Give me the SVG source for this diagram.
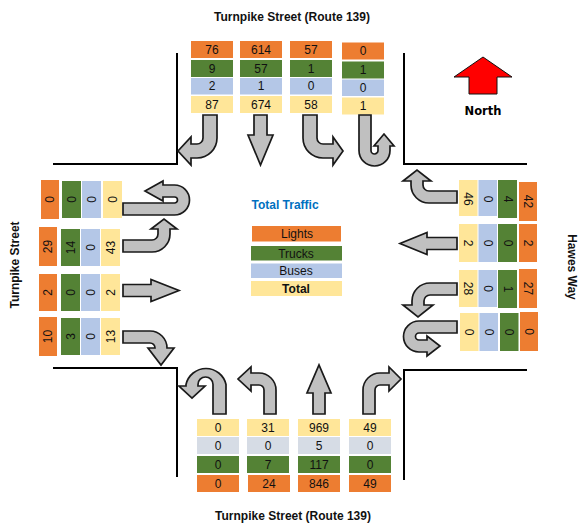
<svg xmlns="http://www.w3.org/2000/svg" width="580" height="523" viewBox="0 0 580 523">
<style>
.o{fill:#ed7d31}.g{fill:#548235}.b{fill:#b4c7e7}.y{fill:#ffe699}.s{fill:#d6dce5}
.n{font-family:"Liberation Sans",Arial,sans-serif;font-size:12px;fill:#111;text-anchor:middle;dominant-baseline:central}
.lbl{font-family:"Liberation Sans",Arial,sans-serif;font-size:12px;font-weight:bold;fill:#111;text-anchor:middle;dominant-baseline:central}
.arr{fill:#c0c0c0;stroke:#1a1a1a;stroke-width:1.7;stroke-linejoin:miter}
.curb{fill:none;stroke:#000;stroke-width:2}
</style>
<rect width="580" height="523" fill="#fff"/>

<g id="curbs">
<path class="curb" d="M177,53 V164 H53"/>
<path class="curb" d="M404,53 V164 H527"/>
<path class="curb" d="M53,368 H177 V477"/>
<path class="curb" d="M527,370 H404 V480"/>
</g>

<g id="labels">
<text class="lbl" x="292" y="17">Turnpike Street (Route 139)</text>
<text class="lbl" x="293" y="516">Turnpike Street (Route 139)</text>
<text class="lbl" transform="rotate(-90 15 265)" x="15" y="265">Turnpike Street</text>
<text class="lbl" transform="rotate(90 572 267)" x="572" y="267">Hawes Way</text>
</g>

<g id="north">
<polygon points="483,57 512,77 497,77 497,94 469,94 469,77 454,77" fill="#ff0000" stroke="#111" stroke-width="1"/>
<text x="483" y="111" style="font-family:'DejaVu Sans',sans-serif;font-size:11.5px;font-weight:bold;text-anchor:middle;dominant-baseline:central;fill:#000">North</text>
</g>

<g id="legend">
<text x="285" y="205" style="font-family:'Liberation Sans',Arial,sans-serif;font-size:12px;font-weight:bold;fill:#0070c0;text-anchor:middle;dominant-baseline:central">Total Traffic</text>
<rect class="o" x="252" y="226" width="89" height="15.5"/>
<text class="n" x="297" y="234">Lights</text>
<rect class="g" x="251" y="246" width="91" height="14.5"/>
<text class="n" x="296" y="253.5">Trucks</text>
<rect class="b" x="251" y="263.5" width="91" height="14.5"/>
<text class="n" x="296" y="271">Buses</text>
<rect class="y" x="251" y="281" width="91" height="15"/>
<text class="lbl" x="296" y="288.5">Total</text>
</g>

<g id="north-approach">
<rect class="o" x="191" y="41" width="42" height="17"/><rect class="g" x="191" y="60" width="42" height="17"/><rect class="b" x="191" y="78" width="42" height="16.5"/><rect class="y" x="191" y="96" width="42" height="17"/>
<text class="n" x="212" y="49.5">76</text><text class="n" x="212" y="68.5">9</text><text class="n" x="212" y="86.3">2</text><text class="n" x="212" y="104.5">87</text>
<rect class="o" x="240" y="41" width="42" height="17"/><rect class="g" x="240" y="60" width="42" height="17"/><rect class="b" x="240" y="78" width="42" height="16.5"/><rect class="y" x="240" y="96" width="42" height="17"/>
<text class="n" x="261" y="49.5">614</text><text class="n" x="261" y="68.5">57</text><text class="n" x="261" y="86.3">1</text><text class="n" x="261" y="104.5">674</text>
<rect class="o" x="290" y="41" width="42" height="17"/><rect class="g" x="290" y="60" width="42" height="17"/><rect class="b" x="290" y="78" width="42" height="16.5"/><rect class="y" x="290" y="96" width="42" height="17"/>
<text class="n" x="311" y="49.5">57</text><text class="n" x="311" y="68.5">1</text><text class="n" x="311" y="86.3">0</text><text class="n" x="311" y="104.5">58</text>
<rect class="o" x="342" y="42.5" width="42" height="17"/><rect class="g" x="342" y="61.5" width="42" height="17"/><rect class="b" x="342" y="79.5" width="42" height="16.5"/><rect class="y" x="342" y="97.5" width="42" height="17"/>
<text class="n" x="363" y="51">0</text><text class="n" x="363" y="70">1</text><text class="n" x="363" y="87.8">0</text><text class="n" x="363" y="106">1</text>
</g>

<g id="west-approach">
<rect class="o" x="41" y="180" width="18" height="39"/><rect class="g" x="62" y="181" width="19" height="37"/><rect class="b" x="82" y="181" width="19" height="37"/><rect class="y" x="103" y="181" width="19" height="37"/>
<text class="n" transform="rotate(-90 50 199.5)" x="50" y="199.5">0</text><text class="n" transform="rotate(-90 71.5 199.5)" x="71.5" y="199.5">0</text><text class="n" transform="rotate(-90 91.5 199.5)" x="91.5" y="199.5">0</text><text class="n" transform="rotate(-90 112.5 199.5)" x="112.5" y="199.5">0</text>
<rect class="o" x="39" y="227" width="18" height="39"/><rect class="g" x="61" y="229" width="19" height="37"/><rect class="b" x="81" y="229" width="19" height="37"/><rect class="y" x="101" y="229" width="19" height="37"/>
<text class="n" transform="rotate(-90 48 246.5)" x="48" y="246.5">29</text><text class="n" transform="rotate(-90 70.5 247.5)" x="70.5" y="247.5">14</text><text class="n" transform="rotate(-90 90.5 247.5)" x="90.5" y="247.5">0</text><text class="n" transform="rotate(-90 110.5 247.5)" x="110.5" y="247.5">43</text>
<rect class="o" x="39" y="274" width="18" height="37"/><rect class="g" x="61" y="274" width="19" height="37"/><rect class="b" x="81" y="274" width="19" height="37"/><rect class="y" x="101" y="274" width="19" height="37"/>
<text class="n" transform="rotate(-90 48 292.5)" x="48" y="292.5">2</text><text class="n" transform="rotate(-90 70.5 292.5)" x="70.5" y="292.5">0</text><text class="n" transform="rotate(-90 90.5 292.5)" x="90.5" y="292.5">0</text><text class="n" transform="rotate(-90 110.5 292.5)" x="110.5" y="292.5">2</text>
<rect class="o" x="39" y="317" width="18" height="39"/><rect class="g" x="61" y="318" width="19" height="37"/><rect class="b" x="81" y="318" width="19" height="37"/><rect class="y" x="101" y="318" width="19" height="37"/>
<text class="n" transform="rotate(-90 48 336.5)" x="48" y="336.5">10</text><text class="n" transform="rotate(-90 70.5 336.5)" x="70.5" y="336.5">3</text><text class="n" transform="rotate(-90 90.5 336.5)" x="90.5" y="336.5">0</text><text class="n" transform="rotate(-90 110.5 336.5)" x="110.5" y="336.5">13</text>
</g>

<g id="east-approach">
<rect class="y" x="459" y="180" width="18.5" height="36"/><rect class="b" x="478.5" y="180" width="18.5" height="36"/><rect class="g" x="498" y="180" width="19" height="38"/><rect class="o" x="519" y="182" width="18" height="39"/>
<text class="n" transform="rotate(90 468 199)" x="468" y="199">46</text><text class="n" transform="rotate(90 487.7 199)" x="487.7" y="199">0</text><text class="n" transform="rotate(90 507.5 199)" x="507.5" y="199">4</text><text class="n" transform="rotate(90 528 201.5)" x="528" y="201.5">42</text>
<rect class="y" x="459" y="224" width="18.5" height="38"/><rect class="b" x="478.5" y="224" width="18.5" height="38"/><rect class="g" x="498" y="224" width="19" height="38"/><rect class="o" x="519" y="224" width="18" height="38"/>
<text class="n" transform="rotate(90 468 243)" x="468" y="243">2</text><text class="n" transform="rotate(90 487.7 243)" x="487.7" y="243">0</text><text class="n" transform="rotate(90 507.5 243)" x="507.5" y="243">0</text><text class="n" transform="rotate(90 528 243)" x="528" y="243">2</text>
<rect class="y" x="459" y="270" width="18.5" height="37"/><rect class="b" x="478.5" y="270" width="18.5" height="37"/><rect class="g" x="498" y="270" width="19" height="38"/><rect class="o" x="519" y="269" width="18" height="39"/>
<text class="n" transform="rotate(90 468 288.5)" x="468" y="288.5">28</text><text class="n" transform="rotate(90 487.7 288.5)" x="487.7" y="288.5">0</text><text class="n" transform="rotate(90 507.5 289)" x="507.5" y="289">1</text><text class="n" transform="rotate(90 528 288.5)" x="528" y="288.5">27</text>
<rect class="y" x="460" y="313" width="18.5" height="38"/><rect class="b" x="479.5" y="313" width="18.5" height="38"/><rect class="g" x="500" y="313" width="18.5" height="38"/><rect class="o" x="520" y="312" width="18" height="39"/>
<text class="n" transform="rotate(90 469 332)" x="469" y="332">0</text><text class="n" transform="rotate(90 488.7 332)" x="488.7" y="332">0</text><text class="n" transform="rotate(90 509 332)" x="509" y="332">0</text><text class="n" transform="rotate(90 529 331.5)" x="529" y="331.5">0</text>
</g>

<g id="south-approach">
<rect class="y" x="197" y="419" width="42" height="17"/><rect class="s" x="197" y="437" width="42" height="17"/><rect class="g" x="197" y="456" width="42" height="17"/><rect class="o" x="197" y="475" width="42" height="17"/>
<text class="n" x="218" y="427.5">0</text><text class="n" x="218" y="445.5">0</text><text class="n" x="218" y="464.5">0</text><text class="n" x="218" y="483.5">0</text>
<rect class="y" x="247" y="419" width="42" height="17"/><rect class="s" x="247" y="437" width="42" height="17"/><rect class="g" x="247" y="456" width="42" height="17"/><rect class="o" x="248" y="475" width="42" height="17"/>
<text class="n" x="268" y="427.5">31</text><text class="n" x="268" y="445.5">0</text><text class="n" x="268" y="464.5">7</text><text class="n" x="269" y="483.5">24</text>
<rect class="y" x="298" y="419" width="42" height="17"/><rect class="s" x="298" y="437" width="42" height="17"/><rect class="g" x="298" y="456" width="42" height="17"/><rect class="o" x="298" y="475" width="42" height="17"/>
<text class="n" x="319" y="427.5">969</text><text class="n" x="319" y="445.5">5</text><text class="n" x="319" y="464.5">117</text><text class="n" x="319" y="483.5">846</text>
<rect class="y" x="349" y="419" width="42" height="17"/><rect class="s" x="349" y="437" width="42" height="17"/><rect class="g" x="349" y="456" width="42" height="17"/><rect class="o" x="349" y="475" width="42" height="17"/>
<text class="n" x="370" y="427.5">49</text><text class="n" x="370" y="445.5">0</text><text class="n" x="370" y="464.5">0</text><text class="n" x="370" y="483.5">49</text>
</g>

<g id="connectors">
<!-- southbound (top) -->
<path class="arr" d="M203,115 H217 V138 A20,20 0 0 1 197,158 H191 V165 L178,151 L191,137 V144 H197 A6,6 0 0 0 203,138 Z"/>
<path class="arr" d="M254,115 H267 V135 H273 L260.5,165 L248,135 H254 Z"/>
<path class="arr" d="M303,115 H317 V138 A6,6 0 0 0 323,144 H333 V137 L343,151 L333,165 V158 H323 A20,20 0 0 1 303,138 Z"/>
<path class="arr" d="M359,115 H371 V150.5 A3.5,3.5 0 0 0 378,150.5 V146 H374 L384,134 L394,146 H390 V150.5 A15.5,15.5 0 0 1 359,150.5 Z"/>
<!-- eastbound (left) -->
<path class="arr" d="M123,203 H174.5 A3,3 0 0 0 174.5,197 H163 V201 L145,191 L163,181 V185 H174.5 A15,15 0 0 1 174.5,215 H123 Z"/>
<path class="arr" d="M123,240 H152 A6,6 0 0 0 158,234 V229 H151 L164,219 L177,229 H170 V234 A18,18 0 0 1 152,252 H123 Z"/>
<path class="arr" d="M123,284.5 H151 V279.5 L179,290.5 L151,301.5 V296.5 H123 Z"/>
<path class="arr" d="M123,331 H150 A17,17 0 0 1 167,348 H174 L161,365 L148,348 H155 A5,5 0 0 0 150,343 H123 Z"/>
<!-- westbound (right) -->
<path class="arr" d="M457,191 H429 A6,6 0 0 1 423,185 V181 H431 L417,170 L403,181 H411 V185 A18,18 0 0 0 429,203 H457 Z"/>
<path class="arr" d="M457,237.5 H427 V232.5 L400,243.5 L427,254.5 V249.5 H457 Z"/>
<path class="arr" d="M457,283 H430 A18,18 0 0 0 412,301 V305 H403 L418,317 L433,305 H424 V301 A6,6 0 0 1 430,295 H457 Z"/>
<path class="arr" d="M457,321 H419 A15.5,15.5 0 0 0 419,352 H427 V356 L440,346 L427,336 V340 H419 A3.5,3.5 0 0 1 419,333 H457 Z"/>
<!-- northbound (bottom) -->
<path class="arr" d="M226,414 H213 V384.5 A7.5,7.5 0 0 0 198,384.5 V386 H205 L192,398 L179,386 H186 V384.5 A20.5,20.5 0 0 1 226,384.5 Z"/>
<path class="arr" d="M276,414 H264 V390 A5,5 0 0 0 259,385 H251 V391 L238,379 L251,367 V373 H259 A17,17 0 0 1 276,390 Z"/>
<path class="arr" d="M313,414 V393 H307 L319,365 L331,393 H325 V414 Z"/>
<path class="arr" d="M363,414 V390 A17,17 0 0 1 380,373 H389 V367 L401,379 L389,391 V385 H380 A5,5 0 0 0 375,390 V414 Z"/>
</g>
</svg>
